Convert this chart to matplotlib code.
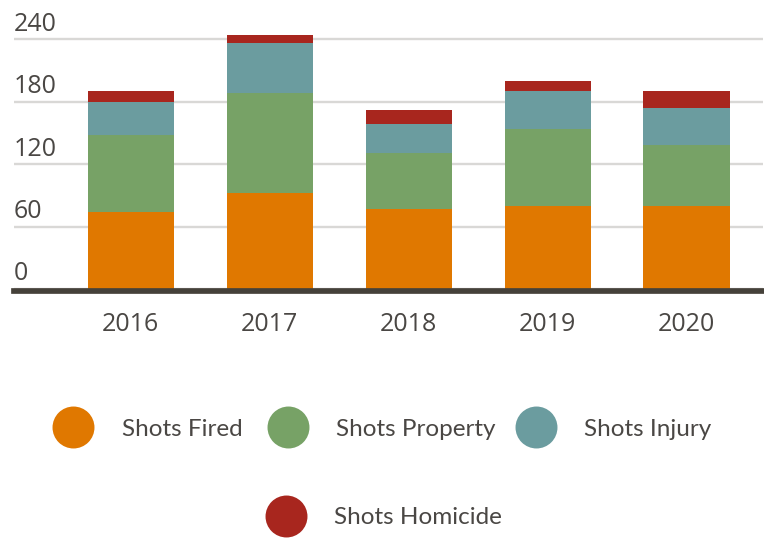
import matplotlib
matplotlib.use("Agg")
import matplotlib.pyplot as plt
import matplotlib.transforms as mtransforms
from matplotlib.lines import Line2D
import numpy as np

years = ["2016", "2017", "2018", "2019", "2020"]
series_names = ["Shots Fired", "Shots Property", "Shots Injury", "Shots Homicide"]
shots_fired = [74, 92, 77, 80, 80]
shots_property = [74, 96, 54, 74, 58]
shots_injury = [32, 48, 28, 36, 36]
shots_homicide = [10, 8, 13, 10, 16]
colors = ["#E07800", "#77A266", "#6B9C9F", "#A8261E"]
yticks = [0, 60, 120, 180, 240]

plt.rcParams['font.family'] = ['Open Sans', 'DejaVu Sans']
TXT = "#4a4744"

W, H = 764, 538
fig = plt.figure(figsize=(W / 100, H / 100), dpi=100)

# axes placement in pixels
left_px, right_px = 14, 763
zero_px = 289
px_per_unit = (289 - 39.3) / 240
ytop = 262
top_px = zero_px - ytop * px_per_unit
ax = fig.add_axes([left_px / W, (H - zero_px) / H, (right_px - left_px) / W, (zero_px - top_px) / H])

x = np.arange(len(years))
data = [shots_fired, shots_property, shots_injury, shots_homicide]
bottom = np.zeros(len(years))
for vals, c, name in zip(data, colors, series_names):
    ax.bar(x, vals, width=0.62, bottom=bottom, color=c, label=name, zorder=3)
    bottom += np.array(vals)

ax.set_xlim(-0.84, 4.55)
ax.set_ylim(0, ytop)
for s in ["top", "right", "left"]:
    ax.spines[s].set_visible(False)
ax.spines["bottom"].set_color("#45413a")
ax.spines["bottom"].set_linewidth(4.1)
ax.spines["bottom"].set_position(("outward", 1.2))
ax.spines["bottom"].set_zorder(4)

ax.set_yticks(yticks)
ax.yaxis.grid(True, color="#d9d8d6", linewidth=1.7, zorder=0)
ax.tick_params(axis="y", length=0, labelleft=False)
trans = mtransforms.offset_copy(ax.get_yaxis_transform(), fig=fig, x=0, y=6.2, units="points")
for v in yticks:
    ax.text(0, v, str(v), transform=trans, ha="left", va="baseline", fontsize=18, color=TXT)

ax.set_xticks(x)
ax.set_xticklabels(years, fontsize=18, color=TXT)
ax.tick_params(axis="x", length=0, pad=15.5)

# custom legend
legend_pos = [(72.5, 427, 122.5), (288, 427, 336), (536, 427, 584.5), (285.7, 515.5, 334)]
for (cx, cy, tx), c, name in zip(legend_pos, colors, series_names):
    fig.add_artist(Line2D([cx / W], [1 - cy / H], marker="o", markersize=30.2, color=c,
                          markeredgewidth=0, linestyle="none", transform=fig.transFigure))
    fig.text(tx / W, 1 - cy / H, name, ha="left", va="center_baseline", fontsize=17.5,
             color=TXT, family=["Lato", "DejaVu Sans"])

fig.savefig("out.png", dpi=100)
